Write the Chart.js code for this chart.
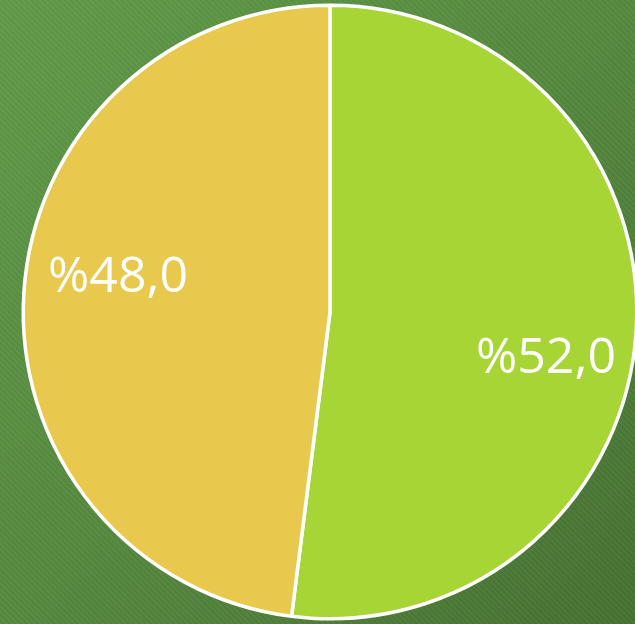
<!DOCTYPE html>
<html>
<head>
<meta charset="utf-8">
<script src="https://cdn.jsdelivr.net/npm/chart.js@4"></script>
<style>
  html, body {
    margin: 0;
    padding: 0;
    width: 635px;
    height: 624px;
    overflow: hidden;
  }
  body {
    background:
      repeating-linear-gradient(45deg, rgba(255,255,255,0.025) 0px, rgba(255,255,255,0.025) 2px, rgba(0,0,0,0.025) 2px, rgba(0,0,0,0.025) 4px),
      linear-gradient(135deg, #619b49 0%, #56893f 50%, #477133 100%);
  }
  #wrap { width: 660px; height: 624px; }
</style>
</head>
<body>
<div id="wrap"><canvas id="pieChart" width="660" height="624"></canvas></div>
<script>
  // Datos del gráfico
  const categories = ["A", "B"];
  const values = [52, 48];
  const colors = ["#a8d536", "#e9c84e"];

  // Etiquetas dentro de cada porción
  const sliceLabels = {
    id: "sliceLabels",
    afterDatasetsDraw(chart) {
      const ctx = chart.ctx;
      const meta = chart.getDatasetMeta(0);
      ctx.save();
      ctx.fillStyle = "#ffffff";
      ctx.font = "50px 'Open Sans'";
      ctx.textAlign = "center";
      ctx.textBaseline = "middle";
      meta.data.forEach((arc, i) => {
        const p = arc.getProps(["x", "y", "startAngle", "endAngle", "outerRadius"], true);
        const mid = (p.startAngle + p.endAngle) / 2 + 0.125;
        const r = p.outerRadius * 0.71;
        const text = "%" + values[i].toFixed(1).replace(".", ",");
        ctx.fillText(text, p.x + Math.cos(mid) * r + 2, p.y + Math.sin(mid) * r + 6);
      });
      ctx.restore();
    },
  };

  const ctx = document.getElementById("pieChart").getContext("2d");
  new Chart(ctx, {
    type: "pie",
    data: {
      labels: categories,
      datasets: [
        {
          data: values,
          backgroundColor: colors,
          borderColor: "#ffffff",
          borderWidth: 3.5,
        },
      ],
    },
    options: {
      responsive: false,
      animation: false,
      layout: { padding: { left: 21, right: 21, top: 3.5, bottom: 3.5 } },
      plugins: {
        legend: { display: false },
        tooltip: { enabled: false },
      },
    },
    plugins: [sliceLabels],
  });
</script>
</body>
</html>
